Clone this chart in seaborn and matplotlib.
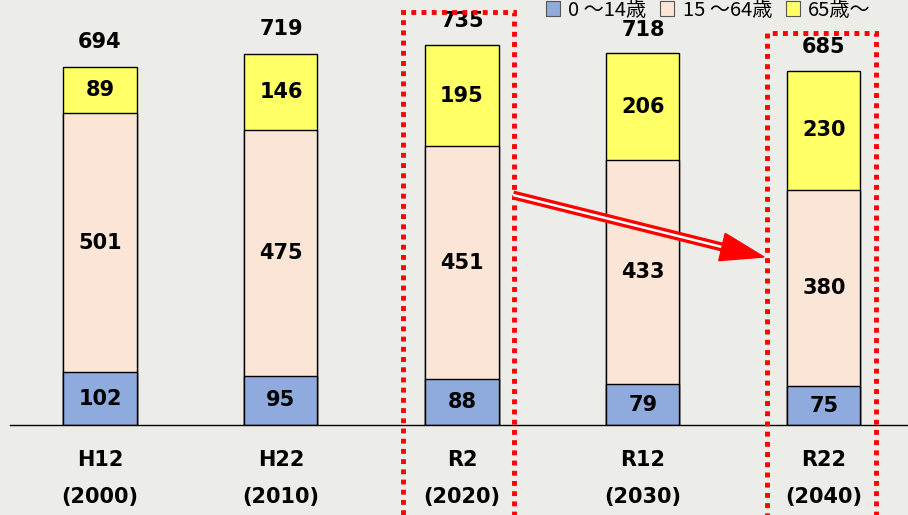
import matplotlib
matplotlib.use("Agg")
import matplotlib.pyplot as plt
import seaborn as sns
import pandas as pd
import numpy as np
from matplotlib.patches import Rectangle, Polygon, Patch

# ---- data ----
eras = ["H12", "H22", "R2", "R12", "R22"]
years = ["(2000)", "(2010)", "(2020)", "(2030)", "(2040)"]
age_0_14 = [102, 95, 88, 79, 75]
age_15_64 = [501, 475, 451, 433, 380]
age_65 = [89, 146, 195, 206, 230]
totals = [694, 719, 735, 718, 685]
legend_labels = ["0 〜14歳", "15 〜64歳", "65歳〜"]
highlight = [2, 4]

c_blue, c_peach, c_yellow = "#8faadc", "#fbe5d6", "#ffff66"
bg = "#ecece8"

sns.set_theme(style="white")
plt.rcParams['font.family'] = ['DejaVu Sans', 'Noto Sans CJK JP']
plt.rcParams['text.color'] = 'black'

df = pd.DataFrame({"era": eras, "a": age_0_14, "b": age_15_64, "c": age_65})
df["ab"] = df["a"] + df["b"]
df["abc"] = df["ab"] + df["c"]

fig = plt.figure(figsize=(9.08, 5.15), dpi=100)
fig.patch.set_facecolor(bg)
ax = fig.add_axes([10 / 908, 90 / 515, 898 / 908, 425 / 515])
ax.set_facecolor(bg)

w = 73 / 181
kw = dict(edgecolor="black", linewidth=1.0, width=w, ax=ax, order=eras)
sns.barplot(data=df, x="era", y="abc", color=c_yellow, saturation=1, **kw)
sns.barplot(data=df, x="era", y="ab", color=c_peach, saturation=1, **kw)
sns.barplot(data=df, x="era", y="a", color=c_blue, saturation=1, **kw)

ax.set_xlim((10 - 100) / 181, (908 - 100) / 181)
ax.set_ylim(0, 425 / 0.5175)
ax.set_xlabel("")
ax.set_ylabel("")
ax.set_xticks([])
ax.set_yticks([])
for s in ["top", "left", "right"]:
    ax.spines[s].set_visible(False)
ax.spines["bottom"].set_color("black")
ax.spines["bottom"].set_linewidth(1.0)

fs = 15
tk = dict(ha="center", va="center", fontsize=fs, fontweight="bold", color="black")
for i in range(len(eras)):
    a, b, c, t = age_0_14[i], age_15_64[i], age_65[i], totals[i]
    ax.text(i, a / 2, str(a), **tk)
    ax.text(i, a + b / 2, str(b), **tk)
    ax.text(i, a + b + c / 2, str(c), **tk)
    ax.text(i, t + 46, str(t), **tk)
    ax.annotate(eras[i], xy=(i, 55), xycoords=("data", "figure pixels"),
                annotation_clip=False, **tk)
    ax.annotate(years[i], xy=(i, 18), xycoords=("data", "figure pixels"),
                annotation_clip=False, **tk)

# highlight boxes
boxes = {2: (-0.325, 0.29, 798), 4: (-0.315, 0.287, 757)}
for i in highlight:
    l, r, top = boxes[i]
    rect = Rectangle((i + l, -300), r - l, top + 300, fill=False, edgecolor="#ff0000",
                     linewidth=3.5, linestyle=(0, (1, 1.1)), clip_on=False, zorder=5)
    ax.add_patch(rect)

# double-line arrow
x0, y0 = (513 - 100) / 181, (425 - 195) / 0.5175
x1, y1 = (764 - 100) / 181, (425 - 257) / 0.5175
xh, yh = (722 - 100) / 181, (425 - 247) / 0.5175
ax.plot([x0, xh], [y0, yh], color="#ff0000", lw=6.5, solid_capstyle="butt", zorder=6)
ax.plot([x0, xh + 0.02], [y0, yh - 0.02 * (y0 - yh) / (xh - x0)], color="white", lw=1.8,
        solid_capstyle="butt", zorder=7)
p_tip = ax.transData.transform((x1, y1))
p_base = ax.transData.transform((xh, yh))
d = p_tip - p_base
n = np.array([-d[1], d[0]]) / np.linalg.norm(d) * 14
pts = np.array([p_tip, p_base + n, p_base - n])
pts_d = ax.transData.inverted().transform(pts)
ax.add_patch(Polygon(pts_d, closed=True, color="#ff0000", zorder=8))

# legend at the top right
handles = [Patch(facecolor=c, edgecolor="#555555", linewidth=0.8) for c in (c_blue, c_peach, c_yellow)]
fig.legend(handles, legend_labels, loc="center left", bbox_to_anchor=(546 / 908, 1 - 10 / 515),
           ncol=3, frameon=False, handlelength=0.7, handleheight=0.7,
           handletextpad=0.4, columnspacing=0.7, borderpad=0.0, borderaxespad=0.0,
           prop={"family": ["Noto Sans CJK JP", "DejaVu Sans"], "size": 14.5})

fig.savefig("out.png", dpi=100, facecolor=bg)
